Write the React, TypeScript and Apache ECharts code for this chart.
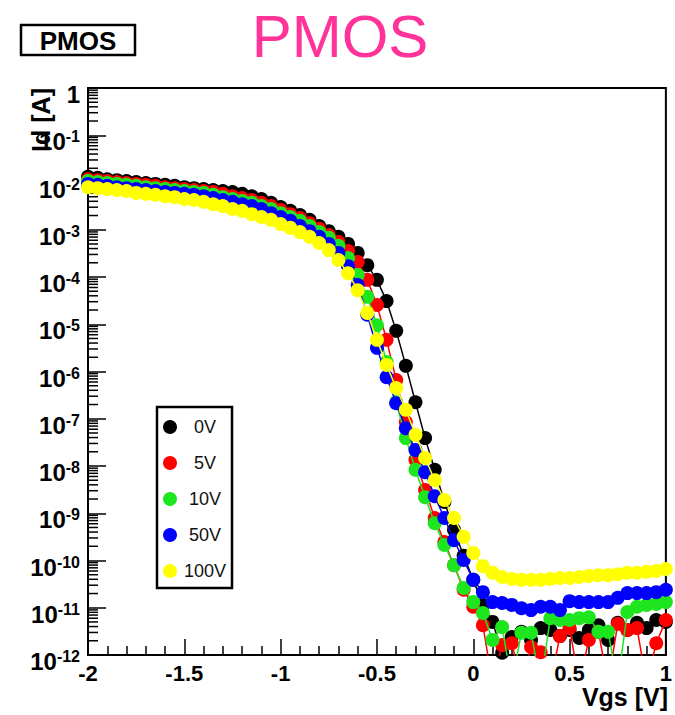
import React, { useEffect, useRef } from 'react';
import * as echarts from 'echarts';

const FONT = '"Liberation Sans", Arial, Helvetica, sans-serif';

// Gate voltage grid (V)
const VGS = [
  -2, -1.95, -1.9, -1.85, -1.8, -1.75, -1.7, -1.65, -1.6, -1.55,
  -1.5, -1.45, -1.4, -1.35, -1.3, -1.25, -1.2, -1.15, -1.1, -1.05,
  -1, -0.95, -0.9, -0.85, -0.8, -0.75, -0.7, -0.65, -0.6, -0.55,
  -0.5, -0.45, -0.4, -0.35, -0.3, -0.25, -0.2, -0.15, -0.1, -0.05,
  0, 0.05, 0.1, 0.15, 0.2, 0.25, 0.3, 0.35, 0.4, 0.45,
  0.5, 0.55, 0.6, 0.65, 0.7, 0.75, 0.8, 0.85, 0.9, 0.95,
  1,
];

// log10(Id [A]) for each curve
const LOG_ID_0V = [
  -1.88, -1.90, -1.93, -1.95, -1.97, -1.99, -2.01, -2.03, -2.05, -2.07,
  -2.10, -2.12, -2.14, -2.16, -2.18, -2.20, -2.24, -2.29, -2.35, -2.43,
  -2.52, -2.60, -2.69, -2.79, -2.92, -3.03, -3.15, -3.30, -3.49, -3.75,
  -4.06, -4.51, -5.14, -5.88, -6.65, -7.41, -8.08, -8.76, -9.35, -9.90,
  -10.41, -10.94, -11.30, -11.95, -11.62, -11.51, -11.68, -11.43, -11.47, -11.60,
  -11.47, -11.64, -11.47, -11.37, -11.68, -11.32, -11.47, -11.32, -11.43, -11.26,
  -11.30,
];
const LOG_ID_5V = [
  -1.93, -1.95, -1.97, -1.99, -2.01, -2.03, -2.05, -2.07, -2.10, -2.12,
  -2.14, -2.16, -2.18, -2.20, -2.24, -2.29, -2.33, -2.37, -2.43, -2.50,
  -2.58, -2.67, -2.75, -2.86, -2.98, -3.11, -3.26, -3.45, -3.68, -4.06,
  -4.59, -5.33, -6.18, -7.07, -7.87, -8.51, -9.10, -9.61, -10.10, -10.62,
  -10.98, -11.37, -12.6, -11.79, -11.75, -12.6, -11.83, -11.94, -12.6, -11.60,
  -11.43, -12.6, -11.68, -11.51, -12.6, -11.34, -11.47, -11.43, -12.6, -11.75,
  -11.26,
];
const LOG_ID_10V = [
  -1.97, -1.99, -2.01, -2.03, -2.05, -2.07, -2.10, -2.12, -2.14, -2.16,
  -2.18, -2.20, -2.22, -2.26, -2.31, -2.35, -2.39, -2.43, -2.50, -2.56,
  -2.65, -2.73, -2.81, -2.92, -3.05, -3.17, -3.34, -3.60, -3.96, -4.42,
  -5.02, -5.80, -6.65, -7.41, -8.08, -8.66, -9.21, -9.67, -10.10, -10.58,
  -10.88, -11.11, -11.68, -11.41, -12.6, -11.53, -11.53, -12.6, -11.22, -11.26,
  -11.26, -11.22, -11.20, -11.51, -11.51, -12.6, -11.09, -10.98, -10.94, -10.92,
  -10.88,
];
const LOG_ID_50V = [
  -2.03, -2.05, -2.07, -2.10, -2.12, -2.14, -2.16, -2.18, -2.20, -2.22,
  -2.24, -2.26, -2.29, -2.33, -2.37, -2.41, -2.46, -2.50, -2.56, -2.65,
  -2.73, -2.81, -2.92, -3.03, -3.15, -3.30, -3.49, -3.77, -4.17, -4.80,
  -5.50, -6.12, -6.67, -7.20, -7.66, -8.13, -8.64, -9.10, -9.57, -9.99,
  -10.41, -10.67, -10.88, -10.90, -10.94, -11.01, -11.05, -10.98, -10.98, -11.05,
  -10.86, -10.88, -10.88, -10.88, -10.88, -10.79, -10.69, -10.69, -10.69, -10.67,
  -10.62,
];
const LOG_ID_100V = [
  -2.10, -2.12, -2.14, -2.16, -2.18, -2.22, -2.24, -2.26, -2.29, -2.31,
  -2.35, -2.37, -2.41, -2.46, -2.50, -2.56, -2.60, -2.67, -2.73, -2.79,
  -2.88, -2.96, -3.05, -3.15, -3.28, -3.43, -3.64, -3.92, -4.28, -4.76,
  -5.33, -5.86, -6.35, -6.81, -7.34, -7.83, -8.30, -8.72, -9.10, -9.50,
  -9.84, -10.12, -10.26, -10.35, -10.39, -10.41, -10.41, -10.41, -10.39, -10.37,
  -10.37, -10.35, -10.33, -10.31, -10.31, -10.29, -10.26, -10.26, -10.24, -10.22,
  -10.18,
];

const SERIES_NAMES = ['0V', '5V', '10V', '50V', '100V'];
const SERIES_COLORS = ['#000000', '#ff0000', '#1ee61e', '#0000ff', '#ffff00'];
const SERIES_LOGS = [LOG_ID_0V, LOG_ID_5V, LOG_ID_10V, LOG_ID_50V, LOG_ID_100V];

// axis ticks
const Y_DECADES = [0, -1, -2, -3, -4, -5, -6, -7, -8, -9, -10, -11, -12];
const Y_MINOR_MANTISSAS = [2, 3, 4, 5, 6, 7, 8, 9];
const X_MIN = -2;
const X_MAX = 1;

export default function App() {
  const ref = useRef<HTMLDivElement>(null);

  useEffect(() => {
    const chart = echarts.init(ref.current!, null, { renderer: 'svg' });

    const minorTicks: number[][] = [];
    for (const e of Y_DECADES) {
      if (e >= 0) continue;
      for (const m of Y_MINOR_MANTISSAS) minorTicks.push([X_MIN, e + Math.log10(m)]);
    }

    const lineSeries = SERIES_NAMES.map((name, k) => ({
      name,
      type: 'line',
      data: VGS.map((x, i) => [x, SERIES_LOGS[k][i]]),
      symbol: 'circle',
      symbolSize: 14,
      showAllSymbol: true,
      clip: true,
      z: 3 + k,
      itemStyle: { color: SERIES_COLORS[k] },
      lineStyle: { color: SERIES_COLORS[k], width: 1.5 },
      emphasis: { disabled: true },
    }));

    chart.setOption({
      animation: false,
      backgroundColor: '#ffffff',
      grid: {
        left: 88,
        top: 88,
        right: 5,
        bottom: 60,
        show: true,
        borderColor: '#000',
        borderWidth: 2,
        containLabel: false,
      },
      legend: {
        data: SERIES_NAMES,
        orient: 'vertical',
        left: 157,
        top: 407,
        padding: [11, 6, 8, 6],
        itemGap: 18,
        itemWidth: 14,
        itemHeight: 14,
        icon: 'circle',
        selectedMode: false,
        borderColor: '#000',
        borderWidth: 2.5,
        backgroundColor: '#fff',
        formatter: (n: string) => `{c|${n}}`,
        textStyle: {
          rich: {
            c: { width: 46, align: 'center', fontSize: 18, color: '#111', fontFamily: FONT },
          },
        },
      },
      xAxis: {
        type: 'value',
        min: X_MIN,
        max: X_MAX,
        interval: 0.5,
        axisLine: { show: true, onZero: false, lineStyle: { color: '#000', width: 2 } },
        axisTick: { show: true, inside: true, length: 16, lineStyle: { color: '#000', width: 1.5 } },
        minorTick: { show: true, splitNumber: 5, length: 9, lineStyle: { color: '#000', width: 1.5 } },
        splitLine: { show: false },
        axisLabel: {
          margin: 7,
          color: '#000',
          fontSize: 22,
          fontWeight: 'bold',
          fontFamily: FONT,
          formatter: (v: number) => String(Math.round(v * 100) / 100),
        },
      },
      yAxis: {
        type: 'value',
        min: -12,
        max: 0,
        interval: 1,
        axisLine: { show: true, onZero: false, lineStyle: { color: '#000', width: 2 } },
        axisTick: { show: true, inside: true, length: 18, lineStyle: { color: '#000', width: 1.5 } },
        splitLine: { show: false },
        axisLabel: {
          margin: 8,
          padding: [12, 0, 0, 0],
          formatter: (v: number) => (v === 0 ? '{b|1}' : `{b|10}{s|${v}}`),
          rich: {
            b: {
              fontSize: 24,
              fontWeight: 'bold',
              fontFamily: FONT,
              color: '#000',
              lineHeight: 25,
              padding: [4, 0, 0, 0],
              verticalAlign: 'bottom',
            },
            s: {
              fontSize: 16,
              fontWeight: 'bold',
              fontFamily: FONT,
              color: '#000',
              lineHeight: 16,
              verticalAlign: 'top',
            },
          },
        },
      },
      graphic: [
        {
          type: 'rect',
          shape: { x: 21, y: 25, width: 114, height: 30 },
          style: { fill: '#fff', stroke: '#000', lineWidth: 2.5 },
        },
        {
          type: 'text',
          x: 78,
          y: 41,
          style: {
            text: 'PMOS',
            fontSize: 26,
            fontWeight: 'bold',
            fontFamily: FONT,
            fill: '#000',
            align: 'center',
            verticalAlign: 'middle',
          },
        },
        {
          type: 'text',
          x: 340,
          y: 36,
          style: {
            text: 'PMOS',
            fontSize: 60,
            lineHeight: 60,
            fontFamily: FONT,
            fill: '#ff3399',
            align: 'center',
            verticalAlign: 'middle',
          },
        },
        {
          type: 'text',
          x: 41,
          y: 88,
          rotation: Math.PI / 2,
          style: {
            text: 'Id [A]',
            fontSize: 25,
            fontWeight: 'bold',
            fontFamily: FONT,
            fill: '#000',
            align: 'right',
            verticalAlign: 'middle',
          },
        },
        {
          type: 'text',
          x: 668,
          y: 697,
          style: {
            text: 'Vgs [V]',
            fontSize: 25,
            fontWeight: 'bold',
            fontFamily: FONT,
            fill: '#000',
            align: 'right',
            verticalAlign: 'middle',
          },
        },
      ],
      series: [
        {
          type: 'custom',
          name: 'yMinorTicks',
          coordinateSystem: 'cartesian2d',
          data: minorTicks,
          silent: true,
          clip: false,
          z: 1,
          renderItem: (_params: any, api: any) => {
            const p = api.coord([api.value(0), api.value(1)]);
            return {
              type: 'line',
              shape: { x1: p[0], y1: p[1], x2: p[0] + 10, y2: p[1] },
              style: { stroke: '#000', lineWidth: 1.5 },
            };
          },
        },
        ...lineSeries,
      ],
    });

    return () => chart.dispose();
  }, []);

  return (
    <div
      ref={ref}
      style={{ position: 'absolute', left: 0, top: 0, width: 675, height: 715 }}
    />
  );
}
